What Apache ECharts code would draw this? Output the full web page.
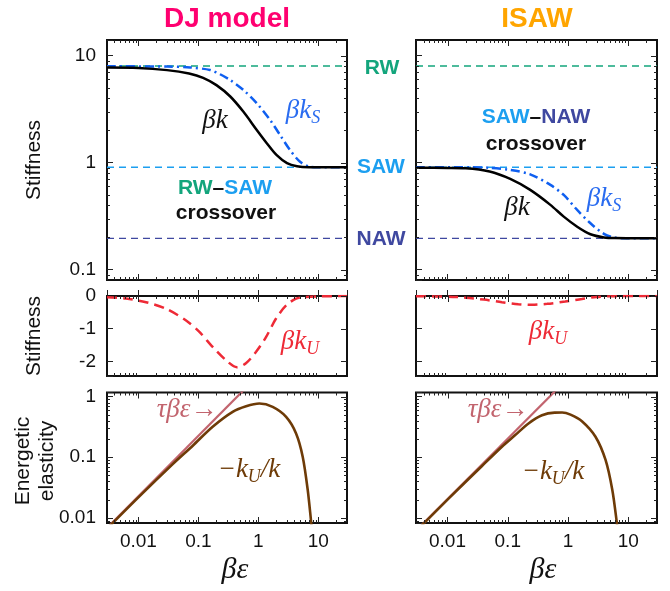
<!DOCTYPE html>
<html><head><meta charset="utf-8">
<script src="https://cdn.jsdelivr.net/npm/echarts@6/dist/echarts.min.js"></script>
<style>html,body{margin:0;padding:0;background:#fff}#c{width:670px;height:591px}</style>
</head><body><div id="c"></div>
<script>
// ---------- tick values / labels ----------
const xTickValues = [0.01, 0.1, 1, 10];
const xTickLabels = ['0.01', '0.1', '1', '10'];
const stiffTickValues = [0.1, 1, 10];
const stiffTickLabels = ['0.1', '1', '10'];
const kuTickValues = [-2, -1, 0];
const kuTickLabels = ['-2', '-1', '0'];
const elasTickValues = [0.01, 0.1, 1];
const elasTickLabels = ['0.01', '0.1', '1'];

// ---------- reference levels ----------
const refX = [0.003, 30];
const levelRW = 8.0;
const levelSAW = 0.905;
const levelNAW = 0.196;

// ---------- DJ model ----------
const djKx = [0.003, 0.01, 0.03, 0.07, 0.12, 0.2, 0.34, 0.56, 0.94, 1.38, 2.0, 3.0, 4.4, 7, 30];
const djK  = [7.75, 7.68, 7.32, 6.8, 6.2, 5.3, 4.15, 3.0, 2.02, 1.52, 1.18, 0.99, 0.925, 0.907, 0.905];
const djKSx = [0.003, 0.03, 0.073, 0.156, 0.23, 0.337, 0.562, 0.94, 1.57, 2.3, 3.37, 4.95, 7.26, 10, 30];
const djKS  = [7.95, 7.9, 7.75, 7.35, 6.7, 5.93, 4.78, 3.59, 2.5, 1.81, 1.31, 1.02, 0.915, 0.906, 0.905];
const djKUx = [0.003, 0.0062, 0.0134, 0.029, 0.0624, 0.104, 0.173, 0.29, 0.44, 0.62, 0.916, 1.34, 1.97, 2.9, 4.25, 6.24, 10, 30];
const djKU  = [-0.04, -0.08, -0.19, -0.39, -0.75, -1.10, -1.56, -1.97, -2.18, -2.06, -1.71, -1.26, -0.69, -0.29, -0.08, -0.03, -0.01, 0];
const djEx = [0.003, 0.0104, 0.0374, 0.0806, 0.173, 0.373, 0.624, 1.04, 1.73, 2.9, 4.25, 5.48, 6.64, 7.55, 8];
const djE  = [0.0066, 0.0226, 0.077, 0.155, 0.318, 0.56, 0.693, 0.768, 0.676, 0.463, 0.247, 0.102, 0.029, 0.0088, 0.005];
const djTx = [0.003, 0.6];
const djT  = [0.0068, 1.35];

// ---------- ISAW ----------
const isKx = [0.003, 0.01, 0.02, 0.05, 0.11, 0.236, 0.51, 0.85, 1.42, 2.36, 3.94, 6, 30];
const isK  = [0.895, 0.892, 0.885, 0.826, 0.704, 0.556, 0.403, 0.313, 0.252, 0.214, 0.2, 0.197, 0.196];
const isKSx = [0.003, 0.024, 0.05, 0.11, 0.236, 0.51, 0.85, 1.42, 2.36, 3.94, 5.78, 10, 30];
const isKS  = [0.905, 0.904, 0.895, 0.855, 0.778, 0.619, 0.499, 0.361, 0.271, 0.216, 0.2, 0.196, 0.196];
const isKUx = [0.003, 0.01, 0.02, 0.04, 0.08, 0.15, 0.25, 0.45, 0.9, 1.7, 3, 6, 30];
const isKU  = [-0.005, -0.02, -0.05, -0.11, -0.19, -0.25, -0.27, -0.24, -0.17, -0.09, -0.03, -0.005, 0];
const isEx = [0.003, 0.0103, 0.037, 0.08, 0.133, 0.221, 0.37, 0.6, 0.8, 1.1, 1.72, 2.86, 4.2, 5.43, 6.41, 6.8];
const isE  = [0.006, 0.0205, 0.071, 0.149, 0.232, 0.361, 0.493, 0.545, 0.547, 0.505, 0.39, 0.218, 0.090, 0.029, 0.0088, 0.005];
const isTx = [0.003, 0.65];
const isT  = [0.0061, 1.31];

// ---------- styling ----------
const C = {
  rw: '#13a57c', saw: '#1c9ff0', naw: '#3f48a0', ks: '#0f5ff0', ksText: '#2a6cf0',
  ku: '#ee2a36', e: '#6e3b07', t: '#c2646e', dj: '#ff0070', isaw: '#ffa500'
};
const SANS = "'Liberation Sans', Arial, Helvetica, sans-serif";
const SERIF = "'Liberation Serif', 'Times New Roman', serif";

const X = {min: 0.003, max: 30};
const Y = [
  {type: 'log', min: 0.08, max: 14, ticks: stiffTickValues, labels: stiffTickLabels},
  {type: 'value', min: -2.45, max: 0, ticks: kuTickValues, labels: kuTickLabels},
  {type: 'log', min: 0.0082, max: 1.17, ticks: elasTickValues, labels: elasTickLabels}
];
const rowsTop = [40, 296, 392.5];
const rowsH = [240, 80, 130.5];
const colsLeft = [107, 416];
const colsW = [240, 241];

function fmt(values, labels, isLog) {
  return function (v) {
    for (let i = 0; i < values.length; i++) {
      const d = isLog ? Math.abs(Math.log10(v) - Math.log10(values[i])) : Math.abs(v - values[i]);
      if (d < 1e-6) return labels[i];
    }
    return '';
  };
}

function logMinors(lo, hi) {
  const out = [];
  for (let e = -4; e <= 2; e++) {
    for (let m = 2; m <= 9; m++) {
      const v = m * Math.pow(10, e);
      if (v > lo * 1.0001 && v < hi * 0.9999) out.push(v);
    }
  }
  return out;
}

const grids = [], xAxes = [], yAxes = [], series = [];
let gi = 0;
for (let r = 0; r < 3; r++) {
  for (let c = 0; c < 2; c++) {
    grids.push({left: colsLeft[c], top: rowsTop[r], width: colsW[c], height: rowsH[r],
      show: true, borderColor: '#111', borderWidth: 2, backgroundColor: 'transparent', containLabel: false});
    xAxes.push({type: 'log', gridIndex: gi, min: X.min, max: X.max,
      axisLine: {show: false}, splitLine: {show: false},
      axisTick: {show: true, inside: true, length: 6, lineStyle: {color: '#222', width: 1}},
      axisLabel: {show: r === 2, margin: 9, fontSize: 19, color: '#111', fontFamily: SANS,
        showMinLabel: false, showMaxLabel: false, formatter: fmt(xTickValues, xTickLabels, true)}
    });
    const yc = Y[r];
    yAxes.push({type: yc.type, gridIndex: gi, min: yc.min, max: yc.max,
      splitNumber: yc.type === 'value' ? 3 : undefined,
      axisLine: {show: false}, splitLine: {show: false},
      axisTick: {show: true, inside: true, length: 6, lineStyle: {color: '#222', width: 1}},
      axisLabel: {show: c === 0, margin: 11, fontSize: 19, color: '#111', fontFamily: SANS,
        showMinLabel: yc.type === 'value' ? true : false, showMaxLabel: true,
        formatter: fmt(yc.ticks, yc.labels, yc.type === 'log')}
    });
    const tdata = [];
    const yBase = yc.min;
    logMinors(X.min, X.max).forEach(v => tdata.push([v, yBase, 0, 3]));
    xTickValues.forEach(v => tdata.push([v, yBase, 1, 6]));
    if (yc.type === 'log') logMinors(yc.min, yc.max).forEach(v => tdata.push([X.min, v, 2, 3]));
    yc.ticks.forEach(v => tdata.push([X.min, v, 3, 6]));
    series.push({
      type: 'custom', xAxisIndex: gi, yAxisIndex: gi, silent: true, z: 5, data: tdata,
      renderItem: function (params, api) {
        const cs = params.coordSys;
        const p = api.coord([api.value(0), api.value(1)]);
        const kind = api.value(2), len = api.value(3);
        const ls = [];
        if (kind === 0 || kind === 1) {
          const x = Math.round(p[0]) + 0.5;
          if (kind === 0) ls.push([x, cs.y + cs.height, x, cs.y + cs.height - len]);
          ls.push([x, cs.y, x, cs.y + len]);
        } else {
          const y = Math.round(p[1]) + 0.5;
          if (kind === 2) ls.push([cs.x, y, cs.x + len, y]);
          ls.push([cs.x + cs.width, y, cs.x + cs.width - len, y]);
        }
        return {type: 'group', children: ls.map(l => ({type: 'line',
          shape: {x1: l[0], y1: l[1], x2: l[2], y2: l[3]}, style: {stroke: '#222', lineWidth: 1}}))};
      }
    });
    gi++;
  }
}

function pairs(xs, ys) { return xs.map((v, i) => [v, ys[i]]); }
function line(idx, xs, ys, color, width, type, z) {
  return {type: 'line', xAxisIndex: idx, yAxisIndex: idx, data: pairs(xs, ys),
    showSymbol: false, symbol: 'none', smooth: 0.3, silent: true, z: z || 3,
    lineStyle: {color: color, width: width, type: type || 'solid', cap: 'butt'}};
}
function level(idx, val, color) {
  return {type: 'line', xAxisIndex: idx, yAxisIndex: idx, data: refX.map(v => [v, val]),
    showSymbol: false, symbol: 'none', silent: true, z: 2,
    lineStyle: {color: color, width: 1.3, type: [7, 5]}};
}
const dashDot = [9, 4, 2, 4];
const dash = [10, 6];
[0, 1].forEach(i => {
  series.push(level(i, levelRW, C.rw));
  series.push(level(i, levelSAW, C.saw));
  series.push(level(i, levelNAW, C.naw));
});
series.push(line(0, djKSx, djKS, C.ks, 2.5, dashDot));
series.push(line(0, djKx, djK, '#000', 2.5));
series.push(line(1, isKSx, isKS, C.ks, 2.5, dashDot));
series.push(line(1, isKx, isK, '#000', 2.5));
series.push(line(2, djKUx, djKU, C.ku, 2.5, dash));
series.push(line(3, isKUx, isKU, C.ku, 2.5, dash));
series.push(line(4, djTx, djT, C.t, 2.2));
series.push(line(4, djEx, djE, C.e, 2.6));
series.push(line(5, isTx, isT, C.t, 2.2));
series.push(line(5, isEx, isE, C.e, 2.6));

// ---------- text ----------
function txt(x, y, text, opt) {
  return Object.assign({type: 'text', x: x, y: y, silent: true, z: 20,
    style: Object.assign({text: text, align: 'center', verticalAlign: 'middle',
      fontFamily: SANS, fontSize: 21, fill: '#111'}, opt.style || {})}, opt.el || {});
}
const mathRich = (color) => ({
  m: {fontFamily: SERIF, fontStyle: 'italic', fontSize: 27, color: color, lineHeight: 30},
  s: {fontFamily: SERIF, fontStyle: 'italic', fontSize: 18, color: color, lineHeight: 18, padding: [14, 0, 0, 0]}
});
function mathTxt(x, y, text, color) {
  return txt(x, y, text, {style: {rich: mathRich(color), fill: color}});
}
const bold = {fontWeight: 'bold'};
const graphics = [
  txt(227, 19, 'DJ model', {style: {fontSize: 28, fontWeight: 'bold', fill: C.dj}}),
  txt(537, 19, 'ISAW', {style: {fontSize: 28, fontWeight: 'bold', fill: C.isaw}}),
  txt(34, 160, 'Stiffness', {el: {rotation: Math.PI / 2}}),
  txt(34, 336, 'Stiffness', {el: {rotation: Math.PI / 2}}),
  txt(35, 461, 'Energetic\nelasticity', {style: {lineHeight: 24}, el: {rotation: Math.PI / 2}}),
  txt(382, 68, 'RW', {style: Object.assign({fill: C.rw}, bold)}),
  txt(381, 167, 'SAW', {style: Object.assign({fill: C.saw}, bold)}),
  txt(381, 239, 'NAW', {style: Object.assign({fill: C.naw}, bold)}),
  txt(225, 188, '{a|RW}{b|–}{c|SAW}', {style: {rich: {
    a: {fill: C.rw, fontWeight: 'bold', fontSize: 21, fontFamily: SANS},
    b: {fill: '#111', fontWeight: 'bold', fontSize: 21, fontFamily: SANS},
    c: {fill: C.saw, fontWeight: 'bold', fontSize: 21, fontFamily: SANS}}}}),
  txt(226, 213, 'crossover', {style: bold}),
  txt(536, 117, '{a|SAW}{b|–}{c|NAW}', {style: {rich: {
    a: {fill: C.saw, fontWeight: 'bold', fontSize: 21, fontFamily: SANS},
    b: {fill: '#111', fontWeight: 'bold', fontSize: 21, fontFamily: SANS},
    c: {fill: C.naw, fontWeight: 'bold', fontSize: 21, fontFamily: SANS}}}}),
  txt(536, 144, 'crossover', {style: bold}),
  mathTxt(215, 121, '{m|βk}', '#111'),
  mathTxt(303, 111, '{m|βk}{s|S}', C.ksText),
  mathTxt(517, 208, '{m|βk}', '#111'),
  mathTxt(604, 199, '{m|βk}{s|S}', C.ksText),
  mathTxt(300, 342, '{m|βk}{s|U}', C.ku),
  mathTxt(548, 332, '{m|βk}{s|U}', C.ku),
  mathTxt(187, 410, '{m|τβε→}', C.t),
  mathTxt(498, 410, '{m|τβε→}', C.t),
  mathTxt(249, 470, '{m|−k}{s|U}{m|/k}', C.e),
  mathTxt(553, 472, '{m|−k}{s|U}{m|/k}', C.e),
  txt(235, 570, 'βε', {style: {fontFamily: SERIF, fontStyle: 'italic', fontSize: 30}}),
  txt(543, 570, 'βε', {style: {fontFamily: SERIF, fontStyle: 'italic', fontSize: 30}})
];

const chart = echarts.init(document.getElementById('c'), null, {renderer: 'canvas'});
chart.setOption({
  animation: false,
  backgroundColor: '#fff',
  grid: grids, xAxis: xAxes, yAxis: yAxes, series: series,
  graphic: graphics
});
</script></body></html>
